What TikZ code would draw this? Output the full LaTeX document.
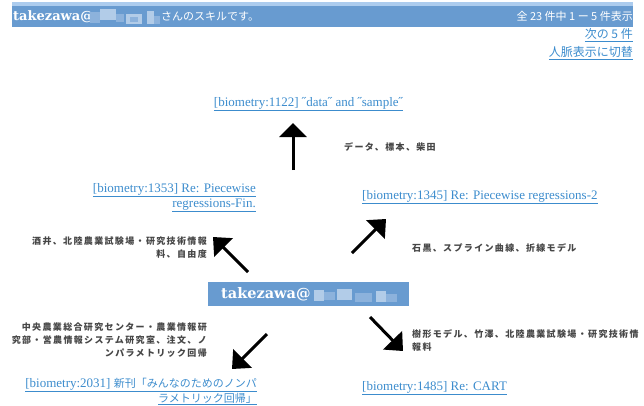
\documentclass[tikz,border=0pt]{standalone}
\usepackage{fontspec}
\setmainfont{Liberation Serif}
\newfontfamily\jp{Noto Sans CJK JP}
\newfontfamily\jpl[LetterSpace=15]{Noto Sans CJK JP}
\newfontfamily\dvs{DejaVu Serif}
\usetikzlibrary{arrows.meta}
\definecolor{barblue}{RGB}{104,155,208}
\definecolor{barlight}{RGB}{172,204,238}
\definecolor{linkblue}{RGB}{60,140,205}
\definecolor{labgray}{RGB}{70,70,70}
\definecolor{blurA}{RGB}{140,178,220}
\definecolor{blurB}{RGB}{178,204,232}
\tikzset{
  link/.style={text=linkblue, font=\fontsize{13}{15}\selectfont, inner sep=0pt},
  toplink/.style={text=linkblue, font=\jp\fontsize{12}{14}\selectfont, inner sep=0pt, anchor=east},
  lab/.style={text=labgray, font=\jpl\bfseries\fontsize{9}{13}\selectfont, inner sep=0pt},
  bigarrow/.style={line width=3pt, -{Triangle[length=15pt,width=26pt]}},
  centerbox/.style={fill=barblue, minimum width=201pt, minimum height=24pt, inner sep=0pt},
}
\begin{document}
\begin{tikzpicture}[x=1pt,y=-1pt]
\useasboundingbox (0,0) rectangle (644,405);
% header bar
\fill[barlight] (12,2) rectangle (633,6);
\fill[barblue] (12,6) rectangle (633,27);
\node[anchor=west, inner sep=0pt, text=white, font=\dvs\bfseries\fontsize{13}{15}\selectfont] (htitle) at (13,16.5) {takezawa@};
\fill[blurA] (90,12) rectangle (100,23);
\fill[blurB] (100,9) rectangle (116,20);
\fill[blurA] (116,14) rectangle (124,22);
\fill[blurB] (126,14) rectangle (142,24);
\fill[blurA] (130,17) rectangle (138,22);
\fill[blurB] (147,11) rectangle (154,24);
\fill[blurA] (154,16) rectangle (160,24);
\node[anchor=west, inner sep=0pt, text=white, font=\jp\fontsize{11}{13}\selectfont] (hsuffix) at (161,16.5) {さんのスキルです。};
\node[anchor=east, inner sep=0pt, text=white, font=\jp\fontsize{11}{13}\selectfont] (hcount) at (633,16.5) {全 23 件中 1 ー 5 件表示};
\node[toplink] (next) at (633,35) {\underline{次の 5 件}};
\node[toplink] (switch) at (633,53) {\underline{人脈表示に切替}};
% center node
\node[centerbox] (me) at (308.5,294) {};
\node[anchor=west, inner sep=0pt, text=white, font=\dvs\bfseries\fontsize{14.5}{16}\selectfont] (mename) at (221,294.5) {takezawa@};
\fill[blurB] (314,290) rectangle (324,301);
\fill[blurA] (324,292) rectangle (335,300);
\fill[blurB] (337,289) rectangle (352,300);
\fill[blurA] (355,293) rectangle (372,302);
\fill[blurB] (376,291) rectangle (386,302);
\fill[blurA] (386,294) rectangle (397,302);
% links
\node[link] (l1122) at (308.5,104) {\underline{[biometry:1122] ˝data˝ and ˝sample˝}};
\node[link, align=right, anchor=east] (l1353) at (256,197.5) {\underline{[biometry:1353] Re: Piecewise}\\\underline{regressions-Fin.}};
\node[link, anchor=west] (l1345) at (362,197) {\underline{[biometry:1345] Re: Piecewise regressions-2}};
\node[link, align=right, anchor=east, font=\fontsize{13}{13.5}\selectfont] (l2031) at (257,391.5) {\underline{[biometry:2031] {\jp\fontsize{11}{13}\selectfont 新刊「みんなのためのノンパ}}\\\underline{\jp\fontsize{11}{13}\selectfont ラメトリック回帰」}};
\node[link, anchor=west] (l1485) at (362,388) {\underline{[biometry:1485] Re: CART}};
% labels
\node[lab, anchor=west] (t1122) at (344,147) {データ、標本、柴田};
\node[lab, anchor=east, align=right] (t1353) at (207,247.5) {酒井、北陸農業試験場・研究技術情報\\料、自由度};
\node[lab, anchor=west] (t1345) at (412,248) {石黒、スプライン曲線、折線モデル};
\node[lab, anchor=east, align=right] (t2031) at (207,340.5) {中央農業総合研究センター・農業情報研\\究部・営農情報システム研究室、注文、ノ\\ンパラメトリック回帰};
\node[lab, anchor=west, align=left] (t1485) at (412,340) {樹形モデル、竹澤、北陸農業試験場・研究技術情\\報料};
% arrows
\coordinate (aUs) at (293,170); \coordinate (aUe) at (293,123);
\coordinate (aNWs) at (248,272); \coordinate (aNWe) at (213,237);
\coordinate (aNEs) at (352,253); \coordinate (aNEe) at (386,219);
\coordinate (aSWs) at (267,334); \coordinate (aSWe) at (232,369);
\coordinate (aSEs) at (370,317); \coordinate (aSEe) at (403,351);
\draw[line width=3pt, -{Triangle[length=14pt,width=27pt]}] (aUs) -- (aUe);
\draw[bigarrow] (aNWs) -- (aNWe);
\draw[bigarrow] (aNEs) -- (aNEe);
\draw[bigarrow] (aSWs) -- (aSWe);
\draw[bigarrow] (aSEs) -- (aSEe);
\end{tikzpicture}
\end{document}
